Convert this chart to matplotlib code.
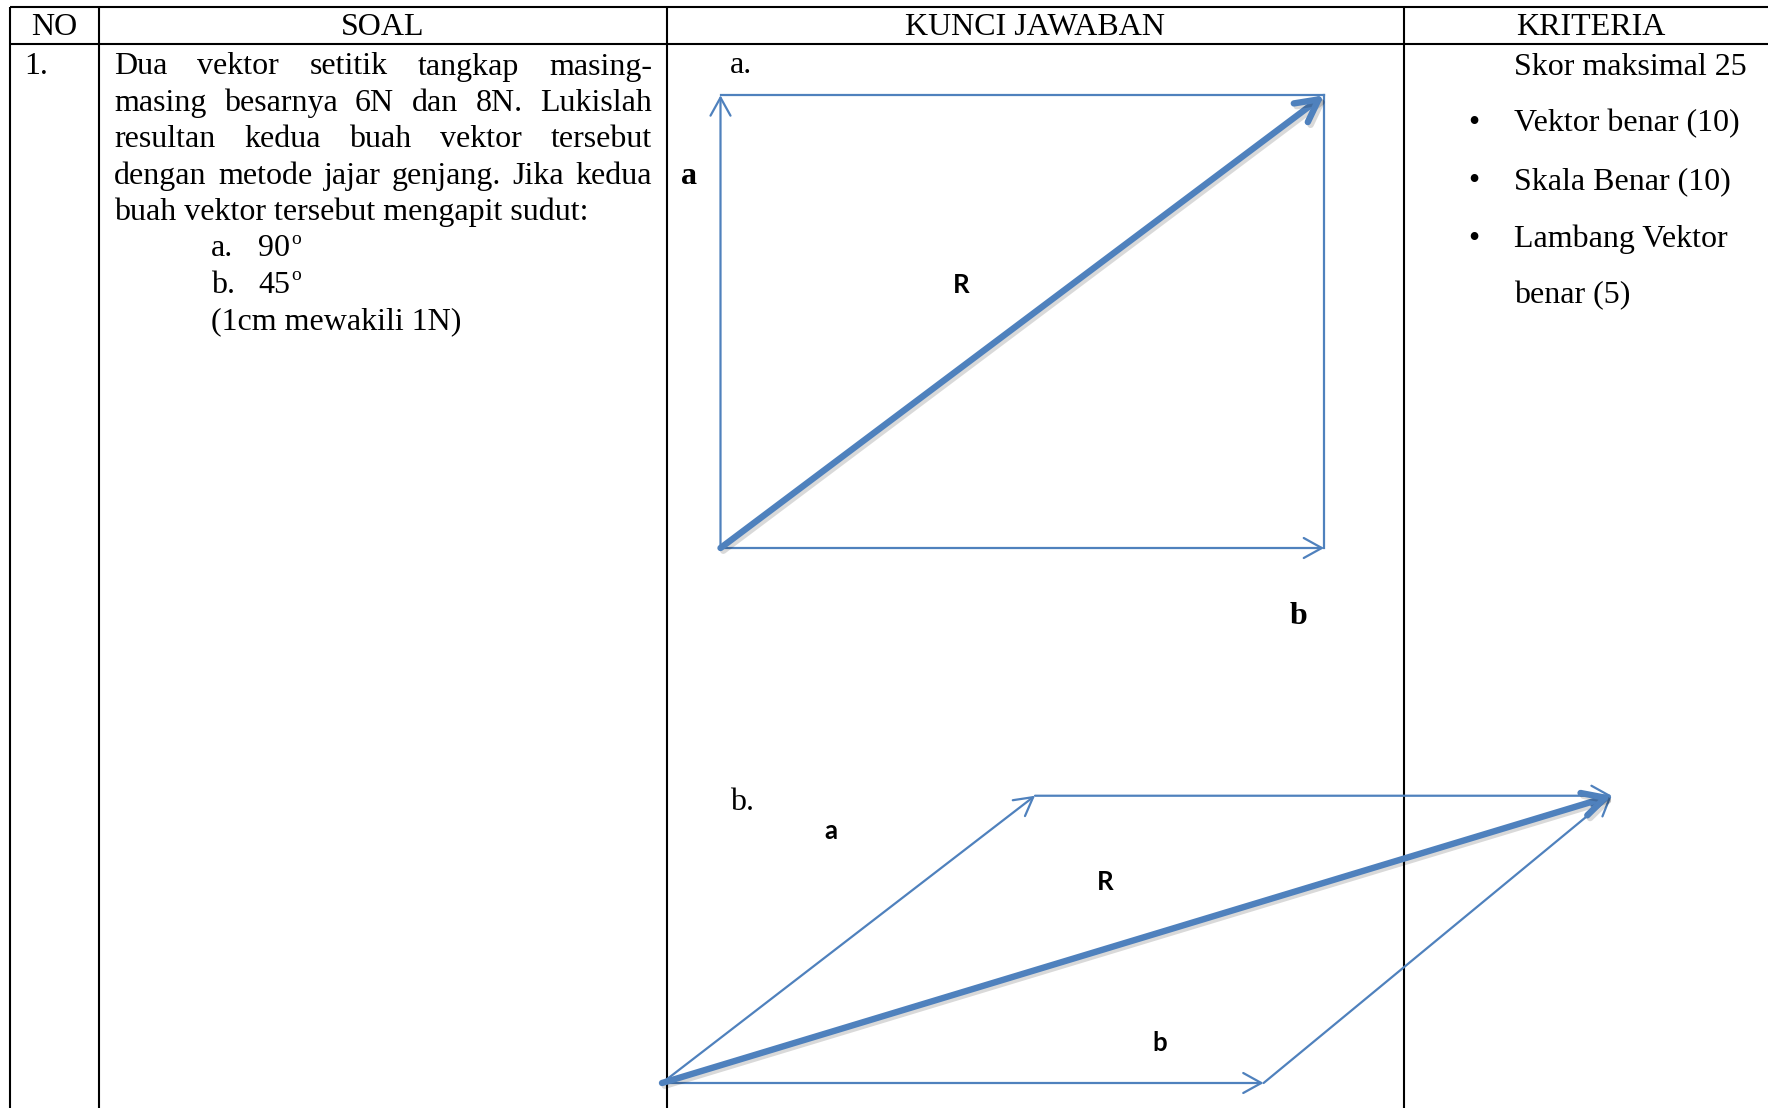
import matplotlib
matplotlib.use("Agg")
import matplotlib.pyplot as plt
from matplotlib import patheffects as pe

# ---------------- data ----------------
headers = ["NO", "SOAL", "KUNCI JAWABAN", "KRITERIA"]
row_no = "1."
soal_justified = [
    "Dua vektor setitik tangkap masing-",
    "masing besarnya 6N dan 8N. Lukislah",
    "resultan kedua buah vektor tersebut",
    "dengan metode jajar genjang. Jika kedua",
]
soal_plain = "buah vektor tersebut mengapit sudut:"
soal_options = [("a.", "90"), ("b.", "45")]
soal_note = "(1cm mewakili 1N)"
kriteria_title = "Skor maksimal 25"
kriteria_bullets = ["Vektor benar (10)", "Skala Benar (10)", "Lambang Vektor"]
kriteria_cont = "benar (5)"

# vectors as drawn (in N, 1 cm = 1 N)
diag_a_vec_a = (0.0, 6.0)
diag_a_vec_b = (8.0, 0.0)
diag_a_vec_r = (8.0, 6.0)
diag_b_vec_a = (4.96, 3.82)
diag_b_vec_b = (8.0, 0.0)
diag_b_vec_r = (12.63, 3.82)

# ---------------- layout ----------------
W, H = 1768, 1108
BLUE = "#4F81BD"
SERIF = ["Liberation Serif", "DejaVu Serif"]
SANS = ["Lato", "DejaVu Sans"]
FS = 23
LFS = 18.5

fig = plt.figure(figsize=(W / 100, H / 100), dpi=100)
ax = fig.add_axes([0, 0, 1, 1])
ax.set_xlim(0, W)
ax.set_ylim(H, 0)
ax.axis("off")
renderer = fig.canvas.get_renderer()

# table grid
col_x = [10, 99, 666.5, 1404]
top_y, head_y = 7, 44
ax.plot([10, W], [top_y, top_y], color="black", lw=1.5, zorder=5, solid_capstyle="butt")
ax.plot([10, W], [head_y, head_y], color="black", lw=1.5, zorder=5, solid_capstyle="butt")
for x in col_x:
    ax.plot([x, x], [top_y, H], color="black", lw=1.5, zorder=5, solid_capstyle="butt")

col_centers = [54.5, 382.5, 1035, 1591]
for h, cx in zip(headers, col_centers):
    ax.text(cx, 35, h, ha="center", va="baseline", fontsize=FS, family=SERIF)

ax.text(24, 74.5, row_no, ha="left", va="baseline", fontsize=FS, family=SERIF)

# justified SOAL text
left, right = 114, 652
lh = 36.4
base0 = 74.5
for i, line in enumerate(soal_justified):
    words = line.split(" ")
    y = base0 + i * lh
    widths = []
    for w in words:
        t = ax.text(0, 0, w, fontsize=FS, family=SERIF)
        widths.append(t.get_window_extent(renderer).width)
        t.remove()
    gap = (right - left - sum(widths)) / (len(words) - 1)
    x = left
    for w, wd in zip(words, widths):
        ax.text(x, y, w, ha="left", va="baseline", fontsize=FS, family=SERIF)
        x += wd + gap
y = base0 + 4 * lh
ax.text(left, y, soal_plain, ha="left", va="baseline", fontsize=FS, family=SERIF)
for j, (lab, val) in enumerate(soal_options):
    y = base0 + (5 + j) * lh
    ax.text(211, y, lab, ha="left", va="baseline", fontsize=FS, family=SERIF)
    t = ax.text(258, y, val, ha="left", va="baseline", fontsize=FS, family=SERIF)
    wd = t.get_window_extent(renderer).width
    ax.text(258 + wd + 1, y - 13, "o", ha="left", va="baseline", fontsize=14, family=SERIF)
ax.text(211, base0 + 7 * lh, soal_note, ha="left", va="baseline", fontsize=FS, family=SERIF)

# KRITERIA
krit_base = [75, 131, 189, 247, 303]
ax.text(1514, krit_base[0], kriteria_title, ha="left", va="baseline", fontsize=FS, family=SERIF)
for k, item in enumerate(kriteria_bullets):
    yb = krit_base[k + 1]
    ax.text(1474, yb, "\u2022", ha="center", va="baseline", fontsize=FS, family=SERIF)
    ax.text(1514, yb, item, ha="left", va="baseline", fontsize=FS, family=SERIF)
ax.text(1514, krit_base[4], kriteria_cont, ha="left", va="baseline", fontsize=FS, family=SERIF)

# ---------------- vector diagrams ----------------


def diagram_axes(origin_px, xmax, ymax, s):
    x0, y0 = origin_px
    a = fig.add_axes([x0 / W, (H - y0) / H, xmax * s / W, ymax * s / H])
    a.set_xlim(0, xmax)
    a.set_ylim(0, ymax)
    a.axis("off")
    return a


thin = dict(arrowstyle="->,head_length=0.65,head_width=0.36", lw=1.6, color=BLUE,
            shrinkA=0, shrinkB=0, mutation_scale=20, clip_on=False)
thick = dict(arrowstyle="->,head_length=0.8,head_width=0.42", lw=4.6, color=BLUE,
             shrinkA=0, shrinkB=0, mutation_scale=20, clip_on=False,
             path_effects=[pe.SimpleLineShadow(offset=(2, -2), shadow_color="black", alpha=0.15),
                           pe.Normal()])


def arrow(a, tail, tip, props):
    a.annotate("", xy=tip, xytext=tail, arrowprops=props, annotation_clip=False)


def line(a, p, q):
    a.plot([p[0], q[0]], [p[1], q[1]], color=BLUE, lw=1.6, clip_on=False)


# diagram a (90 deg)
va, vb, vr = diag_a_vec_a, diag_a_vec_b, diag_a_vec_r
axa = diagram_axes((720.5, 548), vr[0], vr[1], 75.45)
arrow(axa, (0, 0), va, thin)
arrow(axa, (0, 0), vb, thin)
line(axa, va, vr)
line(axa, vb, vr)
arrow(axa, (0, 0), vr, thick)

# diagram b (45 deg)
va, vb, vr = diag_b_vec_a, diag_b_vec_b, diag_b_vec_r
axb = diagram_axes((662, 1083), vr[0], vr[1], 75.2)
arrow(axb, (0, 0), va, thin)
arrow(axb, (0, 0), vb, thin)
arrow(axb, va, vr, thin)
arrow(axb, vb, vr, thin)
arrow(axb, (0, 0), vr, thick)

# labels
ax.text(730, 73, "a.", ha="left", va="baseline", fontsize=FS, family=SERIF)
ax.text(689, 176, "a", ha="center", va="center", fontsize=FS, family=SERIF, weight="bold")
ax.text(961, 285, "R", ha="center", va="center", fontsize=LFS, family=SANS, weight="bold")
ax.text(1299, 617, "b", ha="center", va="center", fontsize=FS, family=SERIF, weight="bold")

ax.text(730, 810, "b.", ha="left", va="baseline", fontsize=FS, family=SERIF)
ax.text(831, 831, "a", ha="center", va="center", fontsize=LFS, family=SANS, weight="bold")
ax.text(1105, 882, "R", ha="center", va="center", fontsize=LFS, family=SANS, weight="bold")
ax.text(1160, 1043, "b", ha="center", va="center", fontsize=LFS, family=SANS, weight="bold")

fig.savefig("out.png", dpi=100)
